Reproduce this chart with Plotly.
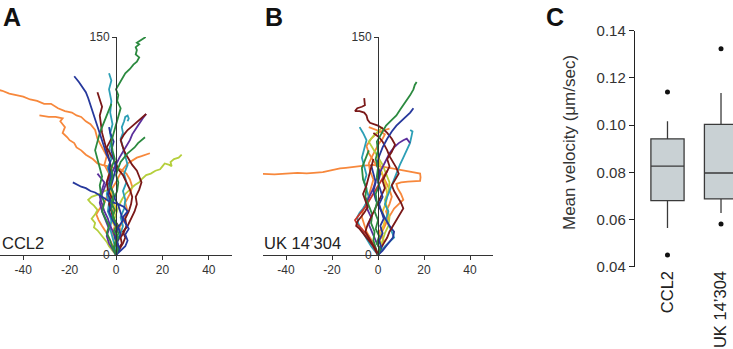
import plotly.graph_objects as go

FONT = "Liberation Sans, Arial, sans-serif"

ORANGE = "#f7883c"
GREEN = "#2b8a3f"
BLUE = "#26389c"
TEAL = "#2c9fb6"
MAROON = "#7a1818"
PURPLE = "#5b2f9c"
LIME = "#b5cf3c"
YELLOW = "#e5c530"
RED = "#c8342a"

# ---------------- Panel A (CCL2) trajectories, µm ----------------
a_green_long_x = [0, 0.8, -0.5, 1, -1, 0.5, -1.5, -0.5, -2, -1, -2.5, -1.5, -2, -0.5, -1.5, -2, -1, 0, 1, 2, 0.5, 1, 0, 1.5, 3, 4, 6, 7.5, 9, 10, 8.5, 9, 8.5, 10, 9, 11, 12, 12.8]
a_green_long_y = [0, 4, 8, 12, 16, 21, 26, 31, 36, 42, 48, 54, 60, 66, 72, 78, 84, 90, 96, 101, 106, 110, 114, 118, 122, 125, 128, 131, 133, 136, 138, 141, 143, 145, 146, 148, 149, 150]
a_orange_top_x = [0, -1, 0.5, -1.5, -0.5, -2, -1, -3, -2, -4, -3, -5, -4, -6, -8, -9, -11, -13, -15, -17, -19, -22, -25, -28, -31, -34, -37, -40, -43, -46, -49, -52]
a_orange_top_y = [0, 5, 10, 15, 20, 26, 32, 38, 44, 50, 56, 62, 68, 74, 80, 86, 90, 92, 95, 96, 98, 99, 101, 104, 104, 106, 107, 109, 110, 111, 113, 114]
a_orange_2_x = [0, 1.5, 0.5, 2.5, 1.5, 3.5, 5, 4, 6, 7, 6, 4.5, 2, -1, -3, -6, -8, -10, -13, -15, -17, -18, -20, -21, -23, -22, -23, -24, -23, -26, -29, -33]
a_orange_2_y = [0, 4, 9, 14, 19, 24, 30, 36, 42, 47, 52, 56, 59, 60, 61, 62, 63, 66, 69, 72, 74, 77, 79, 81, 84, 88, 90, 92, 94, 95, 95, 96]
a_orange_3_x = [0, -1, -2.5, -4, -6, -7.5, -8.5, -7, -5, -4, -2, 0, 1.5, 3, 5, 7, 9, 11, 13, 14.6]
a_orange_3_y = [0, 5, 10, 15, 20, 24, 28, 32, 36, 40, 45, 50, 55, 59, 63, 65, 67, 68, 69, 70]
a_lime_right_x = [0, -1, 0.5, -0.5, 1, -1, 0, 1, 2.5, 4, 6, 8, 10, 11, 13, 15, 17, 19, 20, 21, 23, 24, 23.5, 25, 27, 28.3]
a_lime_right_y = [0, 4, 8, 13, 18, 23, 28, 33, 38, 42, 45, 48, 50, 52, 55, 56, 58, 59, 61, 63, 62, 61, 64, 66, 67, 69]
a_lime_left_x = [0, -1.5, -3, -4, -5.5, -7, -8, -9.5, -9, -10.5, -9, -8, -9.5, -11, -12, -10.5, -9, -7, -5, -3]
a_lime_left_y = [0, 3, 6, 9, 12, 15, 17, 19, 22, 25, 28, 31, 34, 36, 38, 40, 41, 42, 44, 45]
a_blue_top_x = [0, 1.5, 0.5, 2, 1, 3, 2, 1, -0.5, -1.5, -3, -2, -3, -2.5, -4, -5, -6, -7, -8, -9, -10, -11, -12, -13, -14.5, -16, -18]
a_blue_top_y = [0, 4, 9, 14, 19, 24, 29, 34, 39, 44, 49, 54, 59, 64, 69, 74, 79, 84, 89, 94, 99, 104, 108, 112, 116, 119, 123]
a_blue_left_x = [0, 2, 4, 5, 4, 5.5, 4, 3, 5, 3.5, 1, -1, -3, -5, -7, -9, -11, -13, -15, -17, -18.6]
a_blue_left_y = [0, 3, 6, 10, 14, 18, 22, 26, 30, 33, 35, 36, 37, 39, 41, 43, 44, 46, 47, 49, 50]
a_blue_3_x = [0, 1, -0.5, 0.5, -1.5, -3, -2, -3.5, -2, -1, 0, -1, -2, -1, -2.5, -3]
a_blue_3_y = [0, 6, 12, 18, 24, 30, 36, 42, 48, 54, 60, 66, 72, 78, 84, 88]
a_teal_top_x = [0, -0.5, -1.5, -2.5, -2, -3.5, -3, -4, -3, -2.5, -3.5, -2, -3, -2, -2.5, -1.5, -2.5, -2, -3, -2, -3]
a_teal_top_y = [0, 6, 12, 18, 24, 30, 36, 42, 48, 54, 60, 66, 72, 78, 84, 90, 98, 106, 114, 120, 125]
a_teal_right_x = [0, 1, 0.5, 2, 3, 2, 3.5, 4, 3, 4.5, 3.5, 5, 4, 3, 2, 3, 2.5, 3.5, 4, 5, 5.5, 5]
a_teal_right_y = [0, 5, 10, 15, 20, 26, 32, 38, 44, 50, 56, 62, 68, 74, 80, 84, 88, 92, 95, 96, 94, 92]
a_maroon_top_x = [0, -1, 0.5, -0.5, 1, -1, -2, -3, -2, -3.5, -4, -3, -2, -3, -4, -5, -6, -6.5, -7, -6, -7, -8]
a_maroon_top_y = [0, 5, 10, 15, 20, 25, 30, 35, 40, 45, 50, 55, 60, 66, 72, 78, 84, 90, 96, 102, 108, 112]
a_maroon_right_x = [0, 1.5, 3, 4, 3, 5, 6.5, 8, 9, 8.5, 10, 11, 10, 9, 7, 5.5, 4, 3, 2, 3.5, 5, 6.5, 8, 9.5, 11, 13]
a_maroon_right_y = [0, 4, 8, 12, 16, 20, 25, 30, 35, 40, 45, 50, 54, 58, 62, 66, 70, 74, 79, 83, 86, 88, 90, 92, 94, 97]
a_maroon_3_x = [0, 1, 2.5, 2, 3.5, 4.5, 4, 5.5, 6.5, 7, 6, 4.5, 3, 1, 0, -1.5, -3, -4, -3, -2]
a_maroon_3_y = [0, 4, 8, 12, 16, 20, 25, 30, 35, 40, 45, 50, 55, 59, 63, 67, 71, 74, 77, 80]
a_purple_x = [0, -1.5, -3, -4, -3, -4.5, -6, -7, -6, -4.5, -3, -1.5, 0, 1.5, 3, 4.5, 6, 7, 8.5, 10, 11.5, 13]
a_purple_y = [0, 4, 8, 13, 18, 24, 30, 36, 42, 48, 53, 58, 63, 67, 71, 75, 79, 83, 87, 91, 94, 97]
a_purple_2_x = [0, 1, 0, -1, -2.5, -3.5, -5, -6, -7, -6, -5, -6.5, -8]
a_purple_2_y = [0, 5, 10, 15, 20, 25, 30, 35, 40, 45, 50, 53, 56]
a_green_right_x = [0, -1, 0, 1, 0, -1, -2, -1, 0.5, 1, 0, 1, 2, 3.5, 5, 6.5, 8, 9.5, 11, 12.5]
a_green_right_y = [0, 5, 10, 15, 20, 26, 32, 38, 44, 50, 55, 60, 64, 67, 70, 72, 74, 77, 79, 81]
a_green_3_x = [0, -1.5, -2.5, -4, -3, -4.5, -6, -5, -6.5, -7, -6, -7, -8, -9, -8, -7, -5.5, -4, -3, -2]
a_green_3_y = [0, 5, 10, 15, 20, 25, 30, 36, 42, 48, 54, 60, 66, 72, 78, 84, 90, 96, 101, 104]
a_yellow_x = [0, 1, 0, -1, 0.5, -0.5, -2, -1, 0, -1, -2, -3, -2.5, -2]
a_yellow_y = [0, 4, 8, 12, 16, 20, 24, 28, 32, 36, 42, 48, 54, 60]

# ---------------- Panel B (UK 14'304) trajectories, µm ----------------
b_green_long_x = [0, 1, -0.5, 0.5, -1, 0, -1.5, -0.5, -1, 0.5, -0.5, 0, -1, 0, -0.5, 1.5, 3.5, 6, 8, 9.6, 11, 12.5, 14, 15.4, 16, 16.8]
b_green_long_y = [0, 4, 8, 13, 18, 24, 30, 36, 42, 48, 54, 60, 66, 72, 78, 84, 89, 93, 96, 100, 103, 107, 110, 114, 117, 119]
b_blue_x = [0, 1.5, 0.5, 2, 1, 2.5, 1.5, 0.5, 2, 1, 0, 1, -0.5, 0.5, 2, 4, 6, 8, 10, 12, 14, 15.4]
b_blue_y = [0, 5, 10, 15, 20, 25, 30, 35, 40, 45, 50, 56, 62, 68, 74, 80, 85, 89, 92, 95, 98, 101]
b_maroon_loop_x = [0, -1, -2.5, -4, -5.5, -4.5, -3, -1.5, 0, 1.5, 3, 2, 3.5, 5, 4, 6, 7.4, 6, 4, 2, 0, -2, -3.5, -4.5, -5, -6, -8, -10, -9, -7, -5.7, -6]
b_maroon_loop_y = [0, 4, 8, 12, 16, 21, 26, 31, 36, 41, 46, 51, 56, 61, 66, 71, 76, 80, 84, 87, 89, 90, 91, 93, 96, 98, 99, 99, 101, 102, 103, 108]
b_maroon_2_x = [0, 1, 2.5, 4, 5, 6.5, 8, 9.5, 11, 10, 8.5, 7, 6, 7.5, 9, 8, 6.5, 5, 4, 3, 2, 0.5, -1, -2]
b_maroon_2_y = [0, 4, 8, 12, 16, 20, 24, 28, 32, 36, 40, 44, 48, 52, 56, 60, 64, 68, 72, 75, 78, 81, 83, 84]
b_maroon_3_x = [0, -1, -2, -3.5, -5, -6.5, -8, -9.5, -9, -7.5, -6, -4.5, -5.5, -6.5, -5, -4, -3, -2]
b_maroon_3_y = [0, 3, 6, 9, 12, 15, 18, 20, 23, 26, 29, 33, 37, 42, 48, 54, 60, 66]
b_orange_long_x = [0, 1, -0.5, 1.5, 0.5, 2.5, 4, 5.5, 7, 9, 10.5, 11, 10, 8.5, 8, 10, 13, 16, 18.3, 18.5, 18.3, 15, 12, 8, 5, 1, -2, -6, -10, -14, -16.5, -20, -24, -28, -31, -35, -40, -45, -52]
b_orange_long_y = [0, 4, 8, 12, 16, 20, 24, 28, 32, 35, 37, 38, 42, 46, 49, 50, 50.5, 50.5, 51, 53.5, 56, 57, 58, 59, 60, 61, 62, 61.5, 61, 60, 59.6, 58.5, 57, 56.5, 56.2, 56.5, 56, 55.5, 56]
b_orange_2_x = [0, -1, -2, -3.5, -5, -6, -7, -6.5, -5, -4, -3, -2, -3.5, -4, -2.5, -1, 0.5, 2, 3, 1, -1, -3, -4]
b_orange_2_y = [0, 4, 8, 12, 16, 21, 26, 31, 36, 41, 46, 52, 58, 63, 68, 73, 77, 80, 83, 85, 86, 87, 88]
b_orange_3_x = [0, 1, 2.5, 1.5, 3, 4.5, 3.5, 5, 6, 5, 3.5, 2, 0, -2, -4, -5, -3, -1, 1, 3, 5]
b_orange_3_y = [0, 5, 10, 15, 20, 25, 30, 35, 40, 45, 50, 55, 60, 65, 70, 75, 80, 83, 85, 86, 87]
b_teal_right_x = [0, 1.5, 3, 5, 7, 6, 5, 3.5, 4.5, 3, 4, 5.5, 7, 8, 9.5, 11, 12.5, 13.9, 14.6, 15, 14]
b_teal_right_y = [0, 3, 6, 9, 12, 16, 20, 25, 30, 35, 40, 46, 52, 57, 62, 67, 72, 77, 82, 85, 86]
b_teal_left_x = [0, -1.5, -3, -4.5, -6, -7.5, -8.6, -9, -8, -6.5, -5, -4, -5, -6, -5, -6, -7, -6, -5, -6.5, -8]
b_teal_left_y = [0, 3, 6, 10, 14, 18, 22, 26, 29, 32, 36, 40, 45, 50, 55, 61, 67, 73, 79, 84, 88]
b_purple_x = [0, 1, -0.5, -1.5, -2.5, -4, -3, -4.5, -5, -3.5, -2, -1, 0.5, 2, 3.5, 5, 7, 9, 11, 12.5, 13.9]
b_purple_y = [0, 4, 8, 12, 16, 21, 26, 31, 36, 41, 46, 51, 56, 61, 66, 70, 74, 77, 79, 80, 77]
b_lime_x = [0, 1, 2, 3, 4.5, 5, 4, 3, 4.5, 5, 3.5, 2, 0.5, -1, -2.5, -4, -2, 0, 2]
b_lime_y = [0, 5, 10, 15, 20, 26, 32, 38, 44, 50, 56, 62, 66, 70, 74, 78, 82, 85, 88]
b_yellow_x = [0, 1.5, 0.5, 2, 3, 2, 3.5, 4, 3, 1.5, 0]
b_yellow_y = [0, 6, 12, 18, 24, 30, 36, 42, 50, 58, 68]
b_green_2_x = [0, -1, -2, -1.5, -3, -2.5, -4, -5.5, -5, -6.5, -7, -5.5, -4]
b_green_2_y = [0, 5, 10, 16, 22, 28, 34, 40, 46, 52, 60, 66, 72]
b_blue_2_x = [0, 2, 3.5, 5, 6.5, 7, 5, 3.5, 2, 0.5, -1, -2, -1, -2, -3]
b_blue_2_y = [0, 3, 6, 9, 12, 16, 20, 24, 28, 33, 38, 44, 50, 56, 62]
b_red_x = [0, -1, -2, -3.5, -5, -7, -9, -10, -8.5, -7, -5.5, -4, -2.5, -1, 0.5, 2, 3, 4]
b_red_y = [0, 3, 6, 10, 14, 18, 21, 24, 27, 30, 33, 37, 41, 45, 49, 53, 56, 58]

# ---------------- Panel C box plot ----------------
CATEGORIES = ["CCL2", "UK 14’304"]
Q1 = [0.0680, 0.0687]
MEDIAN = [0.0826, 0.0797]
Q3 = [0.0942, 0.1003]
LOWER = [0.0564, 0.0628]
UPPER = [0.1016, 0.1136]
OUTLIER_CAT = ["CCL2", "CCL2", "UK 14’304", "UK 14’304"]
OUTLIER_VAL = [0.1140, 0.0450, 0.1323, 0.0581]

XTICK_VALS = [-40, -20, 0, 20, 40]
XTICK_TEXT = ["-40", "-20", "0", "20", "40"]
YTRACK_VALS = [0, 150]
YBOX_VALS = [0.04, 0.06, 0.08, 0.10, 0.12, 0.14]
YBOX_TEXT = ["0.04", "0.06", "0.08", "0.10", "0.12", "0.14"]

A_TRACKS = [
    (a_orange_top_x, a_orange_top_y, ORANGE),
    (a_orange_2_x, a_orange_2_y, ORANGE),
    (a_orange_3_x, a_orange_3_y, ORANGE),
    (a_lime_right_x, a_lime_right_y, LIME),
    (a_lime_left_x, a_lime_left_y, LIME),
    (a_yellow_x, a_yellow_y, YELLOW),
    (a_teal_top_x, a_teal_top_y, TEAL),
    (a_teal_right_x, a_teal_right_y, TEAL),
    (a_purple_x, a_purple_y, PURPLE),
    (a_purple_2_x, a_purple_2_y, PURPLE),
    (a_maroon_top_x, a_maroon_top_y, MAROON),
    (a_maroon_right_x, a_maroon_right_y, MAROON),
    (a_maroon_3_x, a_maroon_3_y, MAROON),
    (a_green_right_x, a_green_right_y, GREEN),
    (a_green_3_x, a_green_3_y, GREEN),
    (a_blue_top_x, a_blue_top_y, BLUE),
    (a_blue_left_x, a_blue_left_y, BLUE),
    (a_blue_3_x, a_blue_3_y, BLUE),
    (a_green_long_x, a_green_long_y, GREEN),
]
B_TRACKS = [
    (b_orange_long_x, b_orange_long_y, ORANGE),
    (b_orange_2_x, b_orange_2_y, ORANGE),
    (b_orange_3_x, b_orange_3_y, ORANGE),
    (b_lime_x, b_lime_y, LIME),
    (b_yellow_x, b_yellow_y, YELLOW),
    (b_teal_right_x, b_teal_right_y, TEAL),
    (b_teal_left_x, b_teal_left_y, TEAL),
    (b_purple_x, b_purple_y, PURPLE),
    (b_red_x, b_red_y, RED),
    (b_green_2_x, b_green_2_y, GREEN),
    (b_blue_2_x, b_blue_2_y, BLUE),
    (b_maroon_3_x, b_maroon_3_y, MAROON),
    (b_maroon_2_x, b_maroon_2_y, MAROON),
    (b_maroon_loop_x, b_maroon_loop_y, MAROON),
    (b_blue_x, b_blue_y, BLUE),
    (b_green_long_x, b_green_long_y, GREEN),
]

W, H = 733, 349
fig = go.Figure()

for tx, ty, col in A_TRACKS:
    fig.add_trace(go.Scatter(x=tx, y=ty, mode="lines", line=dict(color=col, width=1.8),
                             xaxis="x", yaxis="y", showlegend=False, hoverinfo="skip"))
for tx, ty, col in B_TRACKS:
    fig.add_trace(go.Scatter(x=tx, y=ty, mode="lines", line=dict(color=col, width=1.8),
                             xaxis="x2", yaxis="y2", showlegend=False, hoverinfo="skip"))

fig.add_trace(go.Box(x=CATEGORIES, q1=Q1, median=MEDIAN, q3=Q3, lowerfence=LOWER, upperfence=UPPER,
                     fillcolor="#c9d1d4", line=dict(color="#3a3a3a", width=1.3), width=0.62,
                     whiskerwidth=0, boxpoints=False, xaxis="x3", yaxis="y3", showlegend=False))
fig.add_trace(go.Scatter(x=OUTLIER_CAT, y=OUTLIER_VAL, mode="markers",
                         marker=dict(color="#111111", size=5), xaxis="x3", yaxis="y3",
                         showlegend=False, hoverinfo="skip"))


def py(p):
    return (H - p) / H


tickfont = dict(family=FONT, size=12, color="#333333")
common_x = dict(range=[-50, 50], tickvals=XTICK_VALS, ticktext=XTICK_TEXT, ticks="outside", ticklen=4,
                tickwidth=1, tickcolor="#333", showline=True, linecolor="#333", linewidth=1,
                showgrid=False, zeroline=False, tickfont=tickfont, fixedrange=True, automargin=False)
common_y = dict(range=[0, 150], tickvals=YTRACK_VALS, ticks="outside", ticklen=4, tickwidth=1,
                tickcolor="#333", showline=True, linecolor="#333", linewidth=1, showgrid=False,
                zeroline=False, tickfont=tickfont, anchor="free", fixedrange=True, automargin=False)

fig.update_layout(
    width=W, height=H, margin=dict(l=0, r=0, t=0, b=0),
    paper_bgcolor="white", plot_bgcolor="rgba(0,0,0,0)",
    font=dict(family=FONT, color="#333"),
    xaxis=dict(domain=[0, 232 / W], anchor="y", **common_x),
    yaxis=dict(domain=[py(255), py(37)], position=116 / W, **common_y),
    xaxis2=dict(domain=[263 / W, 493 / W], anchor="y2", **common_x),
    yaxis2=dict(domain=[py(255), py(37)], position=378 / W, **common_y),
    xaxis3=dict(domain=[635 / W, 1], anchor="y3", range=[-0.607, 1.224], showline=False,
                ticks="", tickangle=-90, tickfont=dict(family=FONT, size=16.5, color="#222"),
                showgrid=False, zeroline=False, fixedrange=True, automargin=False),
    yaxis3=dict(domain=[py(266.7), py(30.7)], anchor="x3", range=[0.04, 0.14],
                tickvals=YBOX_VALS, ticktext=YBOX_TEXT,
                ticks="outside", ticklen=5, tickcolor="#222", showline=True, linecolor="#222",
                linewidth=1.4, showgrid=False, zeroline=False,
                tickfont=dict(family=FONT, size=15, color="#333"), fixedrange=True, automargin=False),
)

ann = [
    dict(text="<b>A</b>", x=1 / W, y=py(17), xanchor="left", yanchor="middle", font=dict(size=25, color="#111")),
    dict(text="<b>B</b>", x=263 / W, y=py(17), xanchor="left", yanchor="middle", font=dict(size=25, color="#111")),
    dict(text="<b>C</b>", x=544 / W, y=py(17), xanchor="left", yanchor="middle", font=dict(size=25, color="#111")),
    dict(text="CCL2", x=0, y=py(243), xanchor="left", yanchor="middle", font=dict(size=16.5, color="#222")),
    dict(text="UK 14’304", x=262 / W, y=py(243), xanchor="left", yanchor="middle", font=dict(size=16.5, color="#222")),
    dict(text="Mean velocity (μm/sec)", x=570 / W, y=py(143), textangle=-90, xanchor="center",
         yanchor="middle", font=dict(size=17, color="#333")),
]
for a in ann:
    a.update(xref="paper", yref="paper", showarrow=False)
    a["font"]["family"] = FONT
fig.update_layout(annotations=ann)

fig.write_html("out.html")
